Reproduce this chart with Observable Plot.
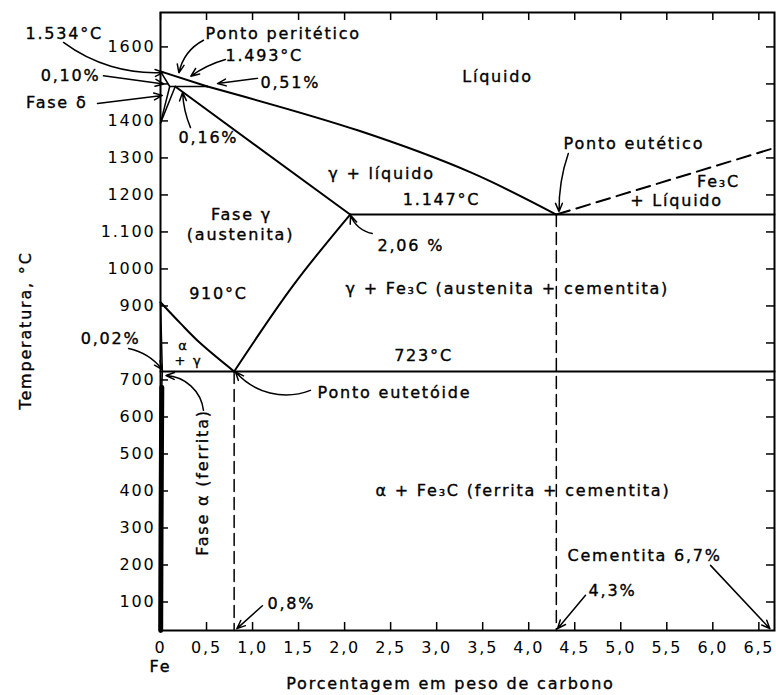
<!DOCTYPE html>
<html><head><meta charset="utf-8">
<script src="https://cdn.jsdelivr.net/npm/d3@7"></script>
<script src="https://cdn.jsdelivr.net/npm/@observablehq/plot@0.6"></script>
<style>body{margin:0;background:#fff}</style>
</head><body><div id="chart"></div>
<script>
// ---- axis ticks ----
const xTicks = [0,0.5,1,1.5,2,2.5,3,3.5,4,4.5,5,5.5,6,6.5];
const xTickLabels = ["0","0,5","1,0","1,5","2,0","2,5","3,0","3,5","4,0","4,5","5,0","5,5","6,0","6,5"];
const yTicks = [100,200,300,400,500,600,700,800,900,1000,1100,1200,1300,1400,1500,1600];
const yTickLabels = ["100","200","300","400","500","600","700","","900","1000","1.100","1200","1300","1400","","1600"];
const xDomain = [0, 6.67];
const yDomain = [23, 1693];

// ---- phase boundaries (wt% C, °C) ----
const deltaLiquidus   = [[0,1534],[0.51,1493]];
const liquidus        = [[0.51,1493],[2.15,1374],[3.37,1261],[4.3,1147]];
const deltaSolidus    = [[0,1534],[0.10,1493]];
const deltaSolvus     = [[0.10,1493],[0,1394]];
const gammaDelta      = [[0.16,1493],[0,1394]];
const peritectic      = [[0.10,1493],[0.51,1493]];
const gammaSolidus    = [[0.16,1493],[2.06,1147]];
const eutectic        = [[2.06,1147],[6.67,1147]];
const cementiteLiq    = [[4.3,1147],[6.67,1327]];
const acmLine         = [[0.8,723],[1.44,955],[2.06,1147]];
const a3Line          = [[0,910],[0.217,853],[0.434,799],[0.8,723]];
const alphaSolvusTop  = [[0,910],[0.02,723],[0.014,680]];
const alphaPhase      = [[0.014,680],[0.01,500],[0.006,300],[0.003,100],[0.002,23]];
const eutectoid       = [[0,723],[6.67,723]];
const eutectoidVert   = [[0.8,723],[0.8,23]];
const eutecticVert    = [[4.3,1147],[4.3,23]];

// ---- annotations ----
const labelsStart = [
  {t:"1.534°C", x:-1.467, y:1636},
  {t:"Ponto peritético", x:0.489, y:1636},
  {t:"1.493°C", x:0.706, y:1577},
  {t:"0,51%", x:1.086, y:1504},
  {t:"0,16%", x:0.196, y:1355},
  {t:"Ponto eutético", x:4.378, y:1339},
  {t:"2,06 %", x:2.357, y:1063},
  {t:"γ + Fe₃C (austenita + cementita)", x:2.01, y:947},
  {t:"Ponto eutetóide", x:1.706, y:666},
  {t:"α + Fe₃C (ferrita + cementita)", x:2.336, y:399},
  {t:"Cementita 6,7%", x:4.421, y:226},
  {t:"4,3%", x:4.65, y:131},
  {t:"0,8%", x:1.162, y:96}
];
const labelsEnd = [
  {t:"0,10%", x:-0.652, y:1523},
  {t:"Fase δ", x:-0.793, y:1450},
  {t:"0,02%", x:-0.217, y:812}
];
const labelsMiddle = [
  {t:"Líquido", x:3.661, y:1520},
  {t:"γ + líquido", x:2.401, y:1258},
  {t:"Fe₃C", x:6.062, y:1234},
  {t:"+ Líquido", x:5.606, y:1185},
  {t:"1.147°C", x:3.053, y:1188},
  {t:"Fase γ", x:0.88, y:1145},
  {t:"(austenita)", x:0.869, y:1091},
  {t:"910°C", x:0.63, y:934},
  {t:"723°C", x:2.857, y:766},
  {t:"Fe", x:0, y:-74},
  {t:"Porcentagem em peso de carbono", x:3.15, y:-120}
];
const smallLabels = [
  {t:"α", x:0.25, y:793},
  {t:"+ γ", x:0.304, y:753}
];
const rotLabels = [
  {t:"Fase α (ferrita)", x:0.456, y:423},
  {t:"Temperatura, °C", x:-1.467, y:834}
];
const arrows = [
  {x1:-1.054,y1:1612,x2:0.033,y2:1531,b:-20},
  {x1:0.467,y1:1618,x2:0.2,y2:1530,b:-25},
  {x1:0.706,y1:1566,x2:0.33,y2:1521,b:-10},
  {x1:1.053,y1:1515,x2:0.62,y2:1501,b:0},
  {x1:-0.62,y1:1522,x2:0.035,y2:1500,b:0},
  {x1:-0.684,y1:1447,x2:0.02,y2:1469,b:0},
  {x1:0.326,y1:1382,x2:0.24,y2:1477,b:10},
  {x1:4.43,y1:1312,x2:4.33,y2:1155,b:-10},
  {x1:2.30,y1:1096,x2:2.065,y2:1145,b:30},
  {x1:-0.347,y1:785,x2:0.02,y2:728,b:20},
  {x1:1.629,y1:672,x2:0.814,y2:722,b:35},
  {x1:0.467,y1:618,x2:0.06,y2:712,b:-40},
  {x1:5.975,y1:199,x2:6.62,y2:28,b:0},
  {x1:1.107,y1:90,x2:0.83,y2:28,b:0},
  {x1:4.617,y1:118,x2:4.313,y2:28,b:0}
];

// ---- layout ----
const W = 776, H = 695, mT = 12, mB = 65, mL = 160, mR = 2;
const tickPx = 8;
const tkX = tickPx * (xDomain[1]-xDomain[0]) / (W - mL - mR);
const tkY = tickPx * (yDomain[1]-yDomain[0]) / (H - mT - mB);

const ln = (d, o={}) => Plot.line(d, {x: p => p[0], y: p => p[1], stroke:"#000", strokeWidth:2, ...o});
const txt = {x:"x", y:"y", text:"t", fill:"#000", stroke:"#000", strokeWidth:0.35, fontSize:16};

const chart = Plot.plot({
  width: W, height: H,
  marginTop: mT, marginBottom: mB, marginLeft: mL, marginRight: mR,
  x: {domain: xDomain},
  y: {domain: yDomain},
  style: {fontFamily: "DejaVu Sans", fontSize: "16px", letterSpacing: "1.8px", background: "#fff", color: "#000"},
  marks: [
    Plot.frame({stroke:"#000", strokeWidth:2}),
    // inward ticks
    Plot.ruleX(xTicks, {y1: yDomain[0], y2: yDomain[0] + tkY, stroke:"#000", strokeWidth:1.5}),
    Plot.ruleX(xTicks, {y1: yDomain[1] - tkY, y2: yDomain[1], stroke:"#000", strokeWidth:1.5}),
    Plot.ruleY(yTicks, {x1: xDomain[0], x2: xDomain[0] + tkX, stroke:"#000", strokeWidth:1.5}),
    Plot.ruleY(yTicks, {x1: xDomain[1] - tkX, x2: xDomain[1], stroke:"#000", strokeWidth:1.5}),
    Plot.axisX(xTicks, {tickSize: 0, tickPadding: 11, tickFormat: d => xTickLabels[xTicks.indexOf(d)], label: null, fontSize: 16, stroke:"#000", strokeWidth:0.35}),
    Plot.axisY(yTicks, {tickSize: 0, tickPadding: 5, tickFormat: d => yTickLabels[yTicks.indexOf(d)], label: null, fontSize: 16, stroke:"#000", strokeWidth:0.35}),
    // boundaries
    ln(deltaLiquidus),
    ln(liquidus, {curve:"catmull-rom"}),
    ln(deltaSolidus, {strokeWidth:1.5}),
    ln(deltaSolvus, {strokeWidth:1.5}),
    ln(gammaDelta, {strokeWidth:1.5}),
    ln(peritectic, {strokeWidth:1.5}),
    ln(gammaSolidus),
    ln(eutectic),
    ln(cementiteLiq, {strokeDasharray:"14,7"}),
    ln(acmLine, {curve:"catmull-rom"}),
    ln(a3Line, {curve:"catmull-rom"}),
    ln(alphaSolvusTop, {strokeWidth:1.5}),
    ln(alphaPhase, {strokeWidth:5}),
    ln(eutectoid),
    ln(eutectoidVert, {strokeWidth:1.5, strokeDasharray:"12,6"}),
    ln(eutecticVert, {strokeWidth:1.5, strokeDasharray:"12,6"}),
    // arrows (one mark each so every arrow keeps its own bend)
    ...arrows.map(a => Plot.arrow([a], {x1:"x1", y1:"y1", x2:"x2", y2:"y2", bend: a.b, stroke:"#000", strokeWidth:1.5, headLength:9, headAngle:45})),
    // text
    Plot.text(labelsStart, {...txt, textAnchor:"start"}),
    Plot.text(labelsEnd, {...txt, textAnchor:"end"}),
    Plot.text(labelsMiddle, {...txt, textAnchor:"middle"}),
    Plot.text(smallLabels, {...txt, fontSize:13}),
    Plot.text(rotLabels, {...txt, rotate:-90})
  ]
});
document.getElementById("chart").appendChild(chart);
</script>
</body></html>
